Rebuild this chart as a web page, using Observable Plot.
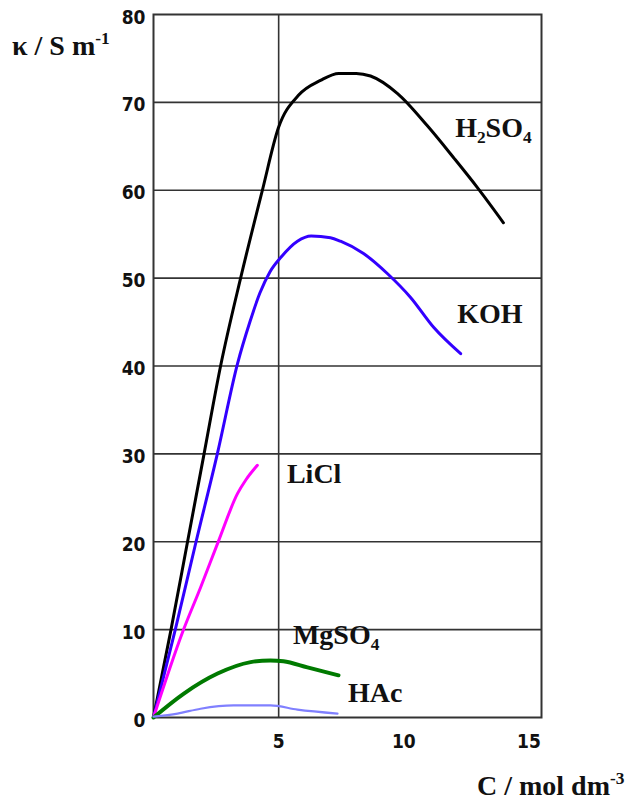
<!DOCTYPE html>
<html><head><meta charset="utf-8">
<script src="https://cdn.jsdelivr.net/npm/d3@7"></script>
<script src="https://cdn.jsdelivr.net/npm/@observablehq/plot@0.6"></script>
<style>body{margin:0;background:#fff}</style>
</head><body><div id="chart"></div>
<script>
// Data (C in mol dm^-3, kappa in S m^-1)
const seriesNames = ["H2SO4", "KOH", "LiCl", "MgSO4", "HAc"];
const h2so4C = [0, 0.7, 1.36, 2.02, 2.68, 3.48, 4.35, 4.99, 5.79, 6.67, 7.4, 8.1, 8.67, 9.75, 10.95, 11.99, 12.94, 13.98];
const h2so4K = [0, 10, 20, 30, 40, 50, 60, 67.1, 70.8, 72.5, 73.3, 73.3, 73.0, 71.0, 67.3, 63.7, 60.3, 56.3];
const kohC = [0, 0.87, 1.7, 2.55, 3.36, 3.85, 4.25, 4.65, 5.1, 5.75, 6.3, 7.07, 7.47, 8.39, 9.35, 10.27, 11.19, 12.27];
const kohK = [0, 10, 20, 30, 40.3, 45, 48.3, 50.7, 52.4, 54.2, 54.8, 54.6, 54.2, 52.8, 50.5, 47.8, 44.4, 41.4];
const liclC = [0, 1.16, 1.88, 2.60, 3.36, 3.68, 4.15];
const liclK = [0, 9.7, 14.8, 20.1, 25.5, 27.0, 28.7];
const mgso4C = [0, 1.20, 2.56, 3.88, 4.67, 5.19, 6.15, 7.39];
const mgso4K = [0, 2.7, 5.0, 6.3, 6.5, 6.4, 5.7, 4.8];
const hacC = [0, 0.96, 1.88, 3.2, 4.67, 5.75, 7.35];
const hacK = [0.1, 0.45, 1.0, 1.37, 1.37, 0.9, 0.45];
const xTicks = [5, 10, 15];
const yTicks = [0, 10, 20, 30, 40, 50, 60, 70, 80];
const yGrid = [10, 20, 30, 40, 50, 60, 70];
const xGrid = [5];
// series label anchors (data coordinates)
const labelC = [12.07, 12.15, 5.35, 5.59, 7.79];
const labelK = [66.0, 44.8, 26.6, 8.3, 1.7];

const colors = {H2SO4: "#000000", KOH: "#3300ff", LiCl: "#ff00ff", MgSO4: "#007a00", HAc: "#8080ff"};
const widths = {H2SO4: 3, KOH: 3, LiCl: 3, MgSO4: 4, HAc: 2.2};

const cs = [h2so4C, kohC, liclC, mgso4C, hacC];
const ks = [h2so4K, kohK, liclK, mgso4K, hacK];
const rows = seriesNames.flatMap((name, i) => cs[i].map((c, j) => ({name, c, k: ks[i][j]})));

const lineMarks = seriesNames.map(name =>
  Plot.line(rows.filter(d => d.name === name), {
    x: "c", y: "k", stroke: colors[name], strokeWidth: widths[name], curve: "monotone-x"
  })
);

const plot = Plot.plot({
  width: 634, height: 800,
  marginLeft: 153, marginRight: 93, marginTop: 14, marginBottom: 83,
  x: {domain: [0, 15.5]},
  y: {domain: [0, 80]},
  style: {fontFamily: "'Liberation Sans Narrow', 'DejaVu Sans Condensed', sans-serif", fontSize: "19px", fontWeight: "bold", background: "white", color: "#111"},
  marks: [
    Plot.ruleY(yGrid, {stroke: "#333", strokeWidth: 1.6}),
    Plot.ruleX(xGrid, {stroke: "#333", strokeWidth: 1.6}),
    Plot.frame({stroke: "#333", strokeWidth: 2}),
    ...lineMarks,
    Plot.axisX({ticks: xTicks, tickSize: 0, tickPadding: 17, label: null}),
    Plot.axisY({ticks: yTicks, tickSize: 0, tickPadding: 8, dy: 3, label: null})
  ]
});

document.getElementById("chart").appendChild(plot);

const sx = plot.scale("x"), sy = plot.scale("y");
const svg = d3.select(plot);
const serif = "'Liberation Serif', 'Times New Roman', serif";

function addText(x, y, parts, size) {
  const t = svg.append("text").attr("x", x).attr("y", y).attr("text-anchor", "start")
    .attr("font-family", serif).attr("font-weight", "bold").attr("font-size", size).attr("fill", "#111");
  parts.forEach(p => {
    const ts = t.append("tspan").text(p.t);
    if (p.sub) ts.attr("font-size", size * 0.62).attr("dy", size * 0.22);
    if (p.after) ts.attr("dy", -size * 0.22);
    if (p.sup) ts.attr("font-size", size * 0.62).attr("dy", -size * 0.38);
  });
  return t;
}

const labelParts = {
  H2SO4: [{t: "H"}, {t: "2", sub: true}, {t: "SO", after: true}, {t: "4", sub: true}],
  KOH: [{t: "KOH"}],
  LiCl: [{t: "LiCl"}],
  MgSO4: [{t: "MgSO"}, {t: "4", sub: true}],
  HAc: [{t: "HAc"}]
};
seriesNames.forEach((name, i) => {
  addText(sx.apply(labelC[i]), sy.apply(labelK[i]), labelParts[name], 28);
});

// axis titles
addText(12, 55, [{t: "κ / S m"}, {t: "-1", sup: true}], 28);
addText(477, 795, [{t: "C / mol dm"}, {t: "-3", sup: true}], 28);
</script>
</body></html>
